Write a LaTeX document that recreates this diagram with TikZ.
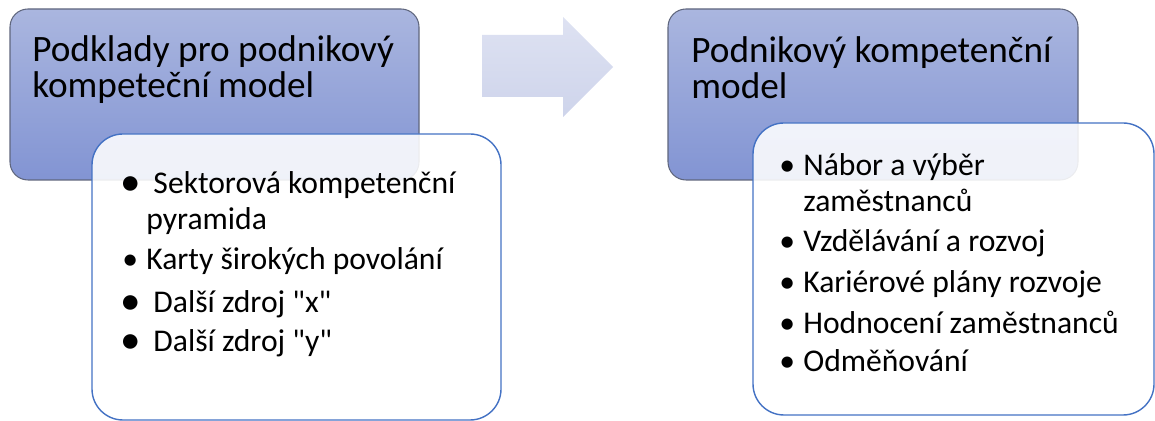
\documentclass[tikz,border=0pt]{standalone}
\usepackage{fontspec}
\setmainfont{Carlito}[Ligatures=TeXOff]
\usetikzlibrary{calc}
\definecolor{hdrtop}{RGB}{170,182,223}
\definecolor{hdrbot}{RGB}{130,148,211}
\definecolor{hdrline}{RGB}{95,102,125}
\definecolor{bodyline}{RGB}{68,114,196}
\definecolor{arrtop}{RGB}{222,226,242}
\definecolor{arrbot}{RGB}{206,212,235}
\newcommand{\Bul}{\makebox[0.64cm][c]{•}}
\newcommand{\BigBul}{\makebox[0.64cm][c]{\raisebox{-.06em}{\scalebox{1.3}{•}}}}
\newcommand{\Ind}{\hspace*{0.64cm}}

\begin{document}
\begin{tikzpicture}[x=0.02cm, y=-0.02cm,
header/.style={draw=hdrline, line width=.6pt, rounded corners=.36cm, top color=hdrtop, bottom color=hdrbot},
body/.style={draw=bodyline, line width=.8pt, rounded corners=.62cm, fill=white, fill opacity=.88},
arrowshape/.style={top color=arrtop, bottom color=arrbot},
title/.style={anchor=base west, inner sep=0, align=left, font=\fontsize{21.2}{21}\selectfont},
item/.style={anchor=base west, inner sep=0, align=left, font=\fontsize{18}{20.5}\selectfont}]
\useasboundingbox (0,0) rectangle (1155,421); %%%%%%% SIZE OF THE PICTURE
%%%%%%%%%%%%%%%%%%%%%%% CORNERS %%%%%%%%%%%%%%%%%%%%%%%%%%%
\coordinate (HdrA1) at (10,9);
\coordinate (HdrA2) at (419,180);
\coordinate (HdrB1) at (668,9);
\coordinate (HdrB2) at (1078,180);
\coordinate (BodyA1) at (92,134);
\coordinate (BodyA2) at (501,420);
\coordinate (BodyB1) at (753,123);
\coordinate (BodyB2) at (1154,415);
%%%%%%%% HEADERS %%%%%%%%%%%%%
\path[header] (HdrA1) rectangle (HdrA2);
\path[header] (HdrB1) rectangle (HdrB2);
%%%%%%%% ARROW %%%%%%%%%%%%%
\path[arrowshape] (482,35) -- (563,35) -- (563,17) -- (613,67) -- (563,117) -- (563,97) -- (482,97) -- cycle;
%%%%%%%% BODIES %%%%%%%%%%%%%
\path[body] (BodyA1) rectangle (BodyA2);
\path[body] (BodyB1) rectangle (BodyB2);
%%%%%%%% TEXT %%%%%%%%%%%%% (base = last line)
\node[title] (TitleA) at (32,98) {Podklady pro podnikový\\kompeteční model};
\node[title] (TitleB) at (691,99) {Podnikový kompetenční\\model};
% left list
\node[item] (SrcA) at (114,230) {\BigBul\ Sektorová kompetenční\\\Ind pyramida};
\node[item] (SrcB) at (114,270) {\Bul Karty širokých povolání};
\node[item] (SrcC) at (114,313) {\BigBul\ Další zdroj "x"};
\node[item] (SrcD) at (114,352) {\BigBul\ Další zdroj "y"};
% right list
\node[item] (UseA) at (771,212) {\Bul Nábor a výběr\\\Ind zaměstnanců};
\node[item] (UseB) at (771,252) {\Bul Vzdělávání a rozvoj};
\node[item] (UseC) at (771,293) {\Bul Kariérové plány rozvoje};
\node[item] (UseD) at (771,334) {\Bul Hodnocení zaměstnanců};
\node[item] (UseE) at (771,372) {\Bul Odměňování};
\end{tikzpicture}
\end{document}
